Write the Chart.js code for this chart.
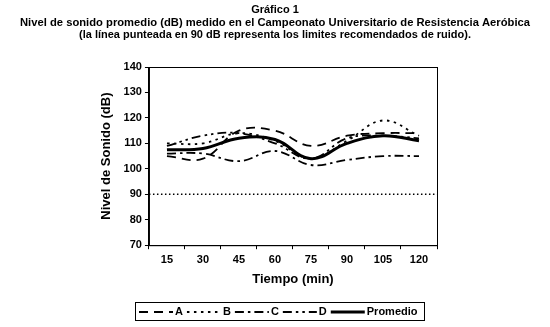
<!DOCTYPE html>
<html>
<head>
<meta charset="utf-8">
<title>Gráfico 1</title>
<script src="https://cdn.jsdelivr.net/npm/chart.js@4.4.1/dist/chart.umd.min.js"></script>
<style>
    body { margin: 0; background: #fff; }
    #wrap { width: 550px; height: 327px; }
</style>
</head>
<body>
<div id="wrap"><canvas id="ruido" width="550" height="327"></canvas></div>

<script>
    // minutos del campeonato
    var tiempos = ['15', '30', '45', '60', '75', '90', '105', '120'];
    // nivel de sonido (dB)
    var serieA = [105, 104, 115, 115, 109, 113, 114, 114];
    var serieB = [110, 110, 114, 111, 104, 111, 119, 113];
    var serieC = [106, 106, 103, 107, 101.5, 103.5, 105, 105];
    var serieD = [109, 113, 114, 110, 104, 112, 113, 112];
    var promedio = [107.5, 108, 112, 111.5, 104, 110, 113, 111];
    var limite = 90; // limite recomendado
    var yTicks = [70, 80, 90, 100, 110, 120, 130, 140];
    var titulo = ['Gráfico 1',
        'Nivel de sonido promedio (dB) medido en el Campeonato Universitario de Resistencia Aeróbica',
        '(la línea punteada en 90 dB representa los limites recomendados de ruido).'];

    var fuente = "'Liberation Sans', Arial, sans-serif";

    function serie(nombre, datos, dash, ancho) {
        return {
            label: nombre,
            data: datos,
            borderColor: '#000',
            backgroundColor: '#000',
            borderWidth: ancho,
            borderDash: dash,
            pointRadius: 0,
            tension: 0.4,
            fill: false
        };
    }

    // titulo de tres lineas (el original es algo mas ancho que la fuente)
    var tituloPlugin = {
        id: 'tituloPlugin',
        afterDraw: function(chart) {
            var ctx = chart.ctx;
            var anchos = [0, 510, 392];
            var ys = [10, 22.5, 35];
            ctx.save();
            ctx.font = 'bold 11px ' + fuente;
            ctx.fillStyle = '#000';
            ctx.textAlign = 'center';
            ctx.textBaseline = 'middle';
            titulo.forEach(function(t, i) {
                var w = ctx.measureText(t).width;
                var k = anchos[i] ? anchos[i] / w : 1;
                ctx.save();
                ctx.translate(275, ys[i]);
                ctx.scale(k, 1);
                ctx.fillText(t, 0, 0);
                ctx.restore();
            });
            ctx.restore();
        }
    };

    // linea punteada en 90 dB + marco del area
    var lineaLimite = {
        id: 'lineaLimite',
        afterDatasetsDraw: function(chart) {
            var ctx = chart.ctx, a = chart.chartArea;
            var y = chart.scales.y.getPixelForValue(limite);
            ctx.save();
            ctx.strokeStyle = '#000';
            ctx.lineWidth = 1.5;
            ctx.setLineDash([1.5, 2.5]);
            ctx.beginPath();
            ctx.moveTo(a.left, y);
            ctx.lineTo(a.right, y);
            ctx.stroke();
            ctx.setLineDash([]);
            ctx.lineWidth = 1;
            ctx.strokeRect(a.left + 0.5, a.top + 0.5, a.right - a.left, a.bottom - a.top);
            ctx.restore();
        }
    };

    // leyenda con recuadro, como en el original
    var leyenda = {
        id: 'leyenda',
        afterDraw: function(chart) {
            var ctx = chart.ctx;
            var x = 135, y = 302, w = 289, h = 18;
            ctx.save();
            ctx.strokeStyle = '#000';
            ctx.lineWidth = 1;
            ctx.strokeRect(x + 0.5, y + 0.5, w, h);
            ctx.font = 'bold 11px ' + fuente;
            ctx.fillStyle = '#000';
            ctx.textBaseline = 'middle';
            var cx = x + 4, cy = y + h / 2 + 1;
            chart.data.datasets.forEach(function(ds) {
                ctx.lineWidth = ds.borderWidth;
                ctx.setLineDash(ds.borderDash);
                ctx.beginPath();
                ctx.moveTo(cx, cy);
                ctx.lineTo(cx + 34, cy);
                ctx.stroke();
                ctx.setLineDash([]);
                ctx.fillText(ds.label, cx + 36, cy);
                cx += 36 + ctx.measureText(ds.label).width + 4;
            });
            ctx.restore();
        }
    };

    new Chart(document.getElementById('ruido').getContext('2d'), {
        type: 'line',
        data: {
            labels: tiempos,
            datasets: [
                serie('A', serieA, [9, 6], 1.8),
                serie('B', serieB, [2.5, 4.5], 1.8),
                serie('C', serieC, [9, 4, 2.5, 4], 1.8),
                serie('D', serieD, [9, 4, 2.5, 4, 2.5, 4], 1.8),
                serie('Promedio', promedio, [], 3)
            ]
        },
        options: {
            responsive: false,
            animation: false,
            layout: { padding: { left: 99, right: 113, top: 67, bottom: 40 } },
            plugins: {
                legend: { display: false },
                tooltip: { enabled: false },
                title: { display: false }
            },
            scales: {
                x: {
                    offset: true,
                    grid: { display: true, offset: true, drawOnChartArea: false, color: '#000', tickLength: 4 },
                    border: { color: '#000', width: 1 },
                    ticks: { color: '#000', font: { family: fuente, size: 11, weight: 'bold' }, padding: 4 },
                    title: { display: true, text: 'Tiempo (min)', color: '#000',
                        font: { family: fuente, size: 13, weight: 'bold' }, padding: { top: 1, bottom: 0 } }
                },
                y: {
                    min: 70,
                    max: 140,
                    afterBuildTicks: function(axis) {
                        axis.ticks = yTicks.map(function(v) { return { value: v }; });
                    },
                    grid: { drawOnChartArea: false, color: '#000', tickLength: 4 },
                    border: { color: '#000', width: 1 },
                    ticks: { color: '#000', font: { family: fuente, size: 11, weight: 'bold' }, padding: 3 },
                    title: { display: true, text: 'Nivel de Sonido (dB)', color: '#000',
                        font: { family: fuente, size: 13, weight: 'bold' }, padding: { top: 0, bottom: 6 } }
                }
            }
        },
        plugins: [lineaLimite, leyenda, tituloPlugin]
    });
</script>
</body>
</html>
